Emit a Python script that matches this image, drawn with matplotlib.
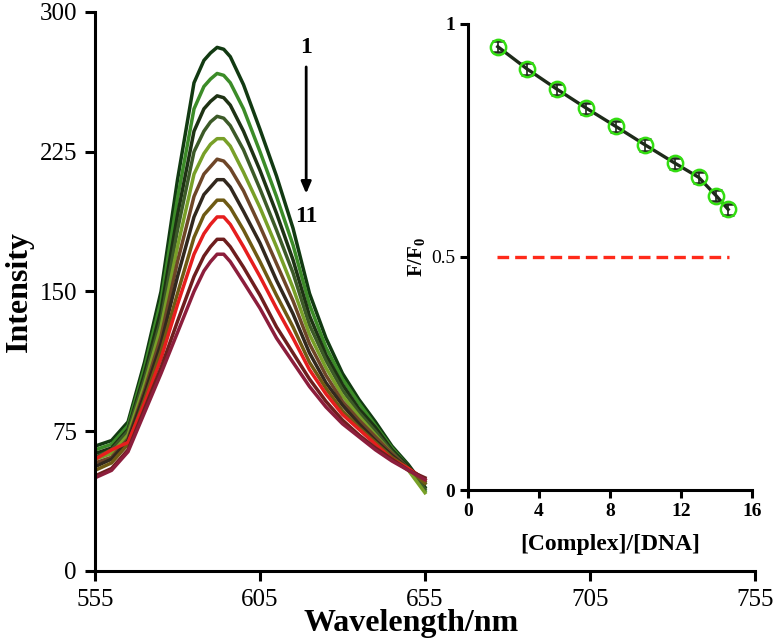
import numpy as np
import matplotlib
matplotlib.use('Agg')
import matplotlib.pyplot as plt

plt.rcParams['font.family'] = ['Liberation Serif', 'DejaVu Serif']
plt.rcParams['mathtext.fontset'] = 'custom'
plt.rcParams['mathtext.rm'] = 'Liberation Serif'
plt.rcParams['mathtext.bf'] = 'Liberation Serif:bold'

# emission spectra, curves 1..11
wavelength = [555, 560, 565, 570, 575, 580, 585, 588, 590, 592, 594, 596,
              600, 605, 610, 615, 620, 625, 630, 635, 640, 645, 650, 655]
spectra = [
    [67, 70, 80, 112, 150, 210, 262, 274, 278, 281, 280, 276, 261, 237, 212, 184, 149, 125, 106, 92, 80, 67, 57, 45],
    [65, 68, 78, 109, 145, 200, 248, 260, 264, 267, 266, 262, 248, 225, 201, 175, 143, 120, 103, 90, 78, 66, 56, 43],
    [63, 66, 76, 106, 140, 191, 236, 248, 252, 255, 254, 250, 236, 215, 192, 167, 137, 116, 100, 87, 77, 65, 56, 47],
    [61, 65, 75, 103, 135, 183, 225, 236, 241, 244, 243, 239, 226, 205, 183, 160, 132, 113, 97, 85, 75, 64, 55, 44],
    [60, 63, 73, 100, 131, 174, 213, 224, 229, 232, 232, 228, 214, 195, 174, 152, 127, 109, 94, 83, 73, 63, 54, 42],
    [58, 61, 71, 97, 126, 166, 201, 213, 217, 221, 220, 216, 204, 185, 165, 145, 122, 105, 91, 81, 72, 63, 55, 48],
    [56, 60, 70, 95, 122, 158, 190, 202, 206, 210, 210, 206, 193, 176, 156, 138, 117, 101, 89, 79, 70, 62, 55, 49],
    [54, 58, 68, 92, 118, 149, 179, 191, 195, 199, 199, 195, 183, 166, 148, 131, 112, 98, 86, 77, 69, 61, 55, 47],
    [60, 65, 69, 90, 114, 143, 170, 181, 186, 190, 190, 186, 174, 158, 141, 125, 108, 95, 84, 76, 68, 60, 55, 49],
    [51, 55, 65, 87, 109, 134, 158, 169, 174, 178, 178, 174, 163, 148, 131, 117, 103, 91, 81, 73, 66, 60, 54, 50],
    [50, 54, 64, 85, 106, 128, 150, 161, 166, 170, 170, 166, 155, 141, 125, 112, 99, 88, 79, 72, 65, 59, 54, 49],
]
curve_colors = ['#123a12', '#3c8c28', '#1e3214', '#3c5a28', '#78a028', '#6e4628',
                '#32281e', '#6e5a14', '#e61e1e', '#6e1e1e', '#8c1e3c']

# inset: quenching ratio
ratio = [1.67, 3.33, 5.0, 6.67, 8.33, 10.0, 11.67, 13.0, 14.0, 14.67]
f_f0 = [0.951, 0.903, 0.860, 0.819, 0.780, 0.740, 0.701, 0.671, 0.631, 0.602]
f_err = [0.012, 0.012, 0.012, 0.012, 0.012, 0.012, 0.012, 0.012, 0.012, 0.012]
half_x = [1.6, 14.7]
half_y = [0.5, 0.5]

fig = plt.figure(figsize=(7.79, 6.44), dpi=100)
ax = fig.add_axes([0.122, 0.1134, 0.847, 0.868])

for spec, c in zip(spectra, curve_colors):
    ax.plot(wavelength, spec, color=c, lw=2.5, solid_joinstyle='round')

ax.set_xlim(555, 755)
ax.set_ylim(0, 300)
ax.set_xticks([555, 605, 655, 705, 755])
ax.set_yticks([0, 75, 150, 225, 300])
for s in ['top', 'right']:
    ax.spines[s].set_visible(False)
for s in ['left', 'bottom']:
    ax.spines[s].set_linewidth(2.2)
ax.tick_params(direction='out', length=7, width=2.2, labelsize=18)
ax.tick_params(axis='x', pad=6)
ax.tick_params(axis='y', pad=6)
ax.set_xlabel('Wavelength/nm', fontsize=23, fontweight='bold', labelpad=0)
ax.xaxis.set_label_coords(0.479, -0.068)
ax.set_ylabel('Intensity', fontsize=23, fontweight='bold', labelpad=4)

ax.annotate('', xy=(619, 201), xytext=(619, 272),
            arrowprops=dict(arrowstyle='-|>,head_length=0.7,head_width=0.3',
                            color='black', lw=2))
ax.text(619, 281, '1', ha='center', va='center', fontsize=17, fontweight='bold')
ax.text(619, 190, '11', ha='center', va='center', fontsize=17, fontweight='bold')

# inset
ins = fig.add_axes([0.601, 0.239, 0.364, 0.724])
ins.plot(half_x, half_y, color='#ff2a1a', lw=2.4, dashes=(3.5, 1.8))
ins.errorbar(ratio, f_f0, yerr=f_err, color='#1e2a1a', lw=2.4, capsize=4,
             elinewidth=1.2, marker='o', markersize=11, markerfacecolor='none',
             markeredgecolor='#33dd11', markeredgewidth=1.8)
ins.set_xlim(0, 16)
ins.set_ylim(0, 1)
ins.set_xticks([0, 4, 8, 12, 16])
ins.set_yticks([0, 0.5, 1])
ins.set_yticklabels(['0', '0.5', '1'])
for s in ['top', 'right']:
    ins.spines[s].set_visible(False)
for s in ['left', 'bottom']:
    ins.spines[s].set_linewidth(2.2)
ins.tick_params(direction='out', length=6, width=2.2, labelsize=14)
for lab in ins.get_xticklabels() + ins.get_yticklabels():
    lab.set_fontweight('bold')
ins.get_yticklabels()[1].set_fontweight('normal')
ins.set_xlabel('[Complex]/[DNA]', fontsize=17, fontweight='bold', labelpad=10)
ins.set_ylabel(r'F/F$_{\mathbf{0}}$', fontsize=15, fontweight='bold', labelpad=2)

fig.savefig('out.png', dpi=100)
